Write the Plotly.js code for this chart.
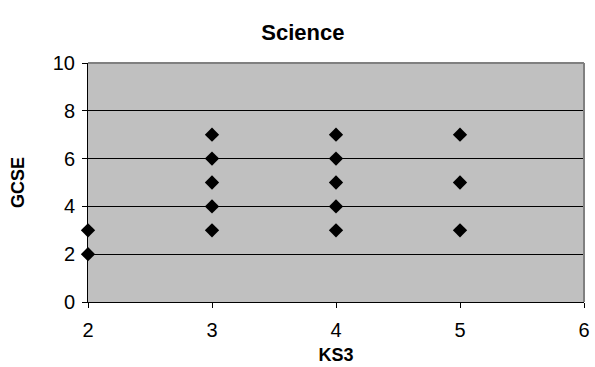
<!DOCTYPE html>
<html>
<head>
<meta charset="utf-8">
<script src="https://cdn.plot.ly/plotly-3.0.1.min.js"></script>
<style>html,body{margin:0;padding:0;background:#fff;}#chart{width:595px;height:367px;}</style>
</head>
<body>
<div id="chart"></div>
<script>
const ks3 = [2, 2, 3, 3, 3, 3, 3, 4, 4, 4, 4, 4, 5, 5, 5];
const gcse = [3, 2, 7, 6, 5, 4, 3, 7, 6, 5, 4, 3, 7, 5, 3];
const xTicks = [2, 3, 4, 5, 6];
const yTicks = [0, 2, 4, 6, 8, 10];
const chartTitle = "Science";
const xTitle = "KS3";
const yTitle = "GCSE";

const trace = {
  x: ks3, y: gcse, type: 'scatter', mode: 'markers',
  marker: {symbol: 'diamond', size: 11, color: '#000000', line: {width: 0}},
  cliponaxis: false, hoverinfo: 'none'
};
const layout = {
  width: 595, height: 367,
  margin: {l: 88, r: 11, t: 63, b: 65},
  paper_bgcolor: '#ffffff', plot_bgcolor: '#c0c0c0',
  font: {family: 'Liberation Sans, Arial, sans-serif', color: '#000000', size: 20},
  title: {text: '<b>' + chartTitle + '</b>', font: {size: 22, color: '#000'}, x: 0.509, xanchor: 'center', y: 0.912, yanchor: 'middle'},
  showlegend: false,
  xaxis: {
    range: [2, 6], tickvals: xTicks, ticktext: xTicks.map(String),
    showgrid: false, zeroline: false, showline: true, linecolor: '#000', linewidth: 1,
    ticks: 'outside', ticklen: 5, tickcolor: '#000', tickwidth: 1,
    tickfont: {size: 20}, ticklabelstandoff: 5,
    title: {text: '<b>' + xTitle + '</b>', font: {size: 18}, standoff: 8}
  },
  yaxis: {
    range: [0, 10], tickvals: yTicks, ticktext: yTicks.map(String),
    showgrid: true, gridcolor: '#000', gridwidth: 1, zeroline: false,
    showline: true, linecolor: '#000', linewidth: 1,
    ticks: 'outside', ticklen: 5, tickcolor: '#000', tickwidth: 1,
    tickfont: {size: 20}, ticklabelstandoff: 3,
    title: {text: '<b>' + yTitle + '</b>', font: {size: 18}, standoff: 23}
  },
  shapes: [
    {type: 'line', xref: 'paper', yref: 'paper', x0: 0, x1: 1, y0: 1, y1: 1, line: {color: '#808080', width: 2}, layer: 'above'},
    {type: 'line', xref: 'paper', yref: 'paper', x0: 1, x1: 1, y0: 0, y1: 1, line: {color: '#808080', width: 2}, layer: 'above'}
  ]
};
Plotly.newPlot('chart', [trace], layout, {displayModeBar: false, staticPlot: true});
</script>
</body>
</html>
